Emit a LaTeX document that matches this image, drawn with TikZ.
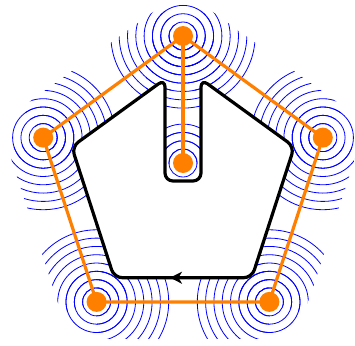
\documentclass[tikz,border=0pt]{standalone}
\usetikzlibrary{calc,arrows.meta,decorations.markings}
\definecolor{vorange}{RGB}{255,128,0}
\definecolor{vblue}{RGB}{0,0,255}
\newcommand\wavesat[2]{\foreach \k in {0,...,#2} \draw[wave] (#1) circle[radius={14pt+8.3pt*\k}];}
\newcommand\bandclip[2]{\clip ($(#1)!37pt!90:(#2)$) -- ($(#2)!37pt!-90:(#1)$) -- ($(#2)!37pt!90:(#1)$) -- ($(#1)!37pt!-90:(#2)$) -- cycle;}
\begin{document}
\begin{tikzpicture}[x=1pt,y=-1pt,
  wave/.style={draw=vblue,line width=0.8pt},
  edge/.style={draw=vorange,line width=3.2pt},
  dot/.style={fill=vorange},
  contourp/.style={insert path={[rounded corners=8pt] (200,277.7) -- (114.2,277.7) -- (71.7,146.8) -- (165,79.1) -- (165,181) -- (201,181) -- (201,79.1) -- (294.3,146.8) -- (251.8,277.7) -- cycle}},
  contourline/.style={draw=black,line width=3.2pt,line join=round,
    postaction={decorate},
    decoration={markings, mark=at position 22pt with {\arrow{Stealth[length=12pt,width=12pt,inset=3.5pt]}}}}
]
\useasboundingbox (0,0) rectangle (355,345);
\coordinate (T) at (183,36);
\coordinate (R) at (322.8,137.6);
\coordinate (BR) at (269.4,301.9);
\coordinate (BL) at (96.6,301.9);
\coordinate (L) at (43.2,137.6);
\coordinate (C) at (183,163);
% waves, outside the contour
\begin{scope}
\clip (-10,-10) -- (-10,360) -- (370,360) -- (370,-10) -- cycle [contourp];
\foreach \v in {T,R,BR,BL,L} {
  \begin{scope}\clip (\v) circle[radius=36pt]; \wavesat{\v}{7}\end{scope}
}
\begin{scope}\clip (C) circle[radius=36pt]; \wavesat{C}{3}\end{scope}
\begin{scope}\bandclip{T}{R} \wavesat{T}{7} \wavesat{R}{7}\end{scope}
\begin{scope}\bandclip{R}{BR} \wavesat{R}{7} \wavesat{BR}{7}\end{scope}
\begin{scope}\bandclip{BR}{BL} \wavesat{BR}{7} \wavesat{BL}{7}\end{scope}
\begin{scope}\bandclip{BL}{L} \wavesat{BL}{7} \wavesat{L}{7}\end{scope}
\begin{scope}\bandclip{L}{T} \wavesat{L}{7} \wavesat{T}{7}\end{scope}
\begin{scope}\bandclip{T}{C} \wavesat{T}{7} \wavesat{C}{3}\end{scope}
\end{scope}
% graph
\draw[edge,line join=round] (T) -- (R) -- (BR) -- (BL) -- (L) -- cycle;
\draw[edge] (T) -- (C);
\foreach \v in {T,R,BR,BL,L,C} \fill[dot] (\v) circle[radius=10pt];
% contour
\path[contourline] [contourp];
\end{tikzpicture}
\end{document}
